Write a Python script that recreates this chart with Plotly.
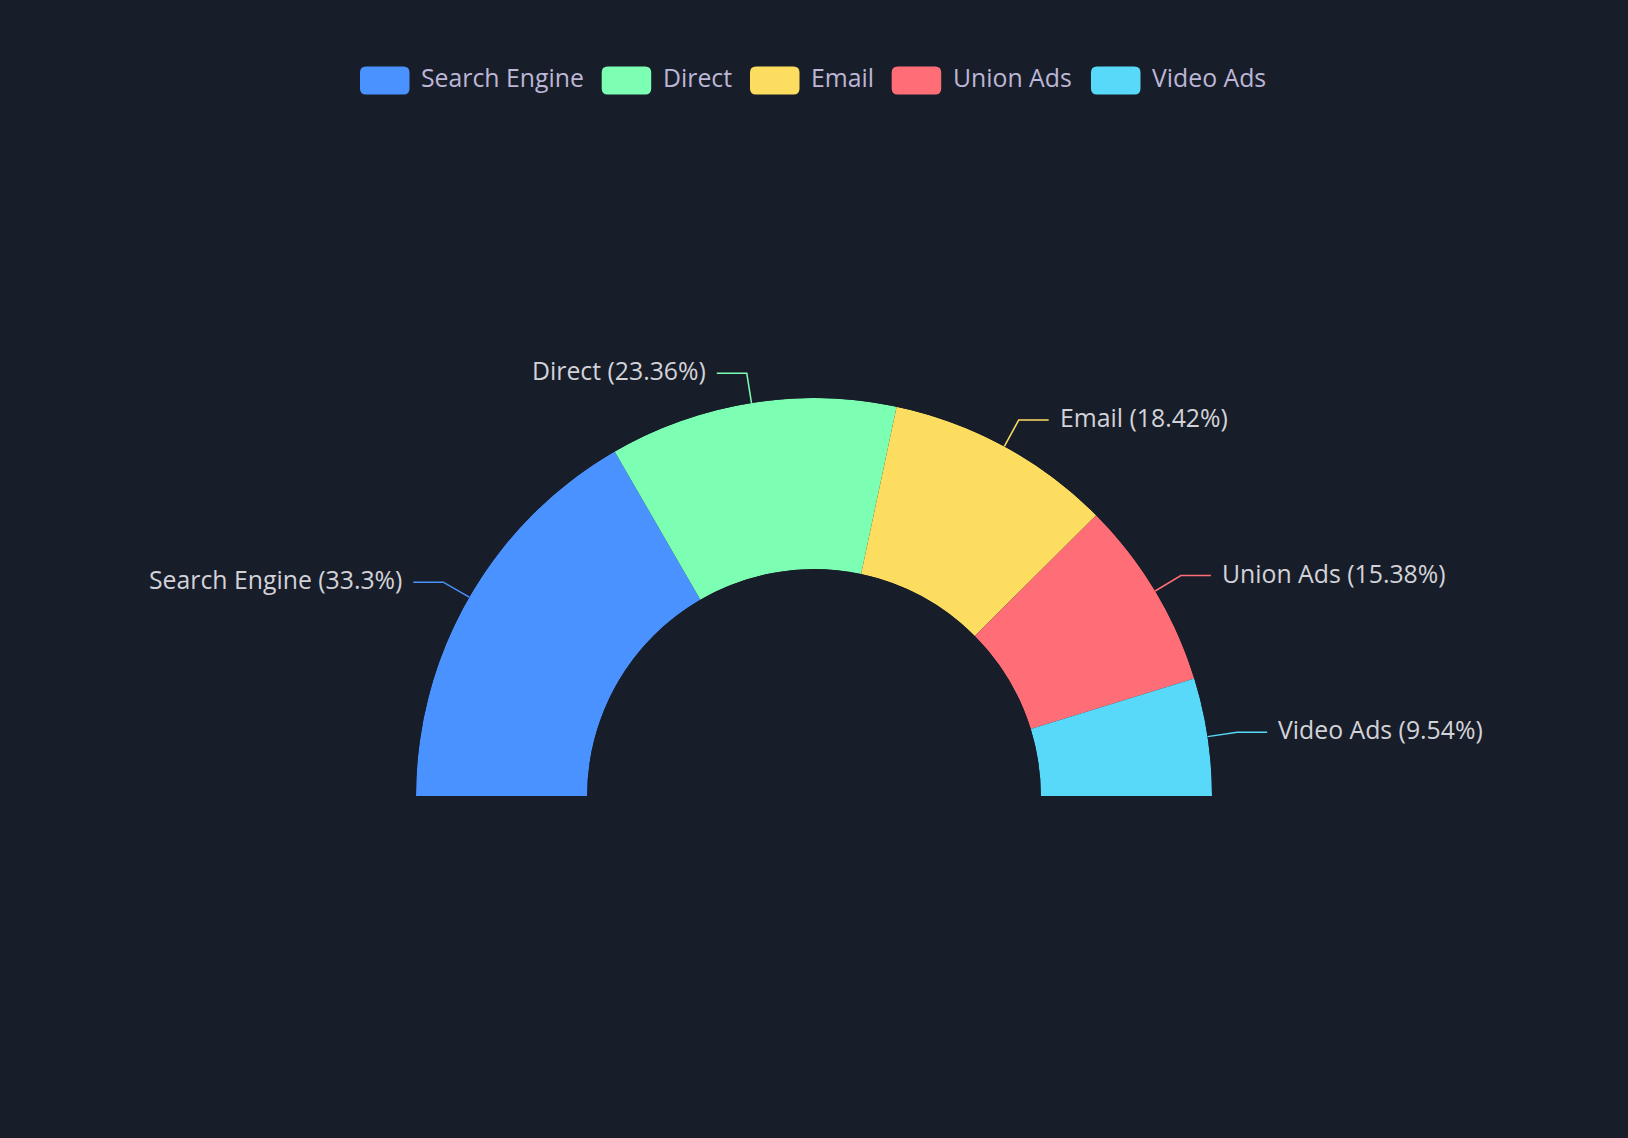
import math
import plotly.graph_objects as go

# ---- data ----
names = ["Search Engine", "Direct", "Email", "Union Ads", "Video Ads"]
values = [1048, 735, 580, 484, 300]
pct_labels = ["33.3%", "23.36%", "18.42%", "15.38%", "9.54%"]
colors = ["#4992ff", "#7cffb2", "#fddd60", "#ff6e76", "#58d9f9"]

# ---- layout constants ----
W, H = 1628, 1138
BG = "#181e29"
CX, CY = 814.0, 796.0          # centre of the half donut (px)
R_OUT = 398.0                   # outer radius (px)
HOLE = 0.57
L1, L2, GAP = 30.0, 30.0, 10.0  # label line lengths
FONT = "Open Sans, Noto Sans, sans-serif"
FSIZE = 24.8
LABEL_COLOR = "#d2d2d8"
LEGEND_COLOR = "#bdb6d6"
TEXT_SHIFT = 3


def px(x):
    return x / W


def py(y):
    return 1 - y / H


total = float(sum(values))
widths = [180.0 * v / total for v in values]
centers = []
acc = 0.0
for w in widths:
    centers.append(acc + w / 2)
    acc += w

fig = go.Figure()
for n, v, w, c, col in zip(names, values, widths, centers, colors):
    fig.add_trace(go.Barpolar(
        r=[1], theta=[c], width=[w], base=0, name=n,
        marker=dict(color=col, line=dict(width=0)),
        showlegend=False, hoverinfo="name",
    ))

shapes = []
annotations = []
for n, p, c, col in zip(names, pct_labels, centers, colors):
    a = math.radians(180.0 - c)
    x0, y0 = CX + R_OUT * math.cos(a), CY - R_OUT * math.sin(a)
    x1, y1 = CX + (R_OUT + L1) * math.cos(a), CY - (R_OUT + L1) * math.sin(a)
    side = 1 if math.cos(a) >= 0 else -1
    x2, y2 = x1 + side * L2, y1
    shapes.append(dict(
        type="path", xref="paper", yref="paper",
        path=f"M{px(x0)},{py(y0)} L{px(x1)},{py(y1)} L{px(x2)},{py(y2)}",
        line=dict(color=col, width=1.5),
    ))
    annotations.append(dict(
        text=f"{n} ({p})", xref="paper", yref="paper",
        x=px(x2 + side * GAP), y=py(y2), yshift=TEXT_SHIFT,
        xanchor="left" if side > 0 else "right", yanchor="middle",
        showarrow=False, borderpad=0,
        font=dict(family=FONT, size=FSIZE, color=LABEL_COLOR),
    ))

# ---- custom legend (rounded swatches) ----
legend_x = [360, 601.7, 750, 891.7, 1091]
ICON_W, ICON_H, RAD = 49.5, 28.0, 6.0
LEG_Y = 80.5
for n, col, lx in zip(names, colors, legend_x):
    x0, x1 = lx, lx + ICON_W
    y0, y1 = LEG_Y - ICON_H / 2, LEG_Y + ICON_H / 2
    path = (
        f"M{px(x0 + RAD)},{py(y0)} L{px(x1 - RAD)},{py(y0)} "
        f"Q{px(x1)},{py(y0)} {px(x1)},{py(y0 + RAD)} "
        f"L{px(x1)},{py(y1 - RAD)} Q{px(x1)},{py(y1)} {px(x1 - RAD)},{py(y1)} "
        f"L{px(x0 + RAD)},{py(y1)} Q{px(x0)},{py(y1)} {px(x0)},{py(y1 - RAD)} "
        f"L{px(x0)},{py(y0 + RAD)} Q{px(x0)},{py(y0)} {px(x0 + RAD)},{py(y0)} Z"
    )
    shapes.append(dict(type="path", xref="paper", yref="paper", path=path,
                       fillcolor=col, line=dict(width=0)))
    annotations.append(dict(
        text=n, xref="paper", yref="paper",
        x=px(x1 + 10.5), y=py(LEG_Y), yshift=TEXT_SHIFT,
        xanchor="left", yanchor="middle",
        showarrow=False, borderpad=0,
        font=dict(family=FONT, size=FSIZE, color=LEGEND_COLOR),
    ))

fig.update_layout(
    width=W, height=H,
    paper_bgcolor=BG, plot_bgcolor=BG,
    margin=dict(l=0, r=0, t=0, b=0),
    showlegend=False,
    polar=dict(
        domain=dict(x=[px(CX - R_OUT), px(CX + R_OUT)], y=[py(CY), py(CY - R_OUT)]),
        sector=[0, 180],
        hole=HOLE,
        bgcolor="rgba(0,0,0,0)",
        radialaxis=dict(visible=False, range=[0, 1]),
        angularaxis=dict(visible=False, direction="clockwise", rotation=180,
                         thetaunit="degrees"),
    ),
    bargap=0,
    shapes=shapes,
    annotations=annotations,
    font=dict(family=FONT),
)

fig.write_html("out.html")
